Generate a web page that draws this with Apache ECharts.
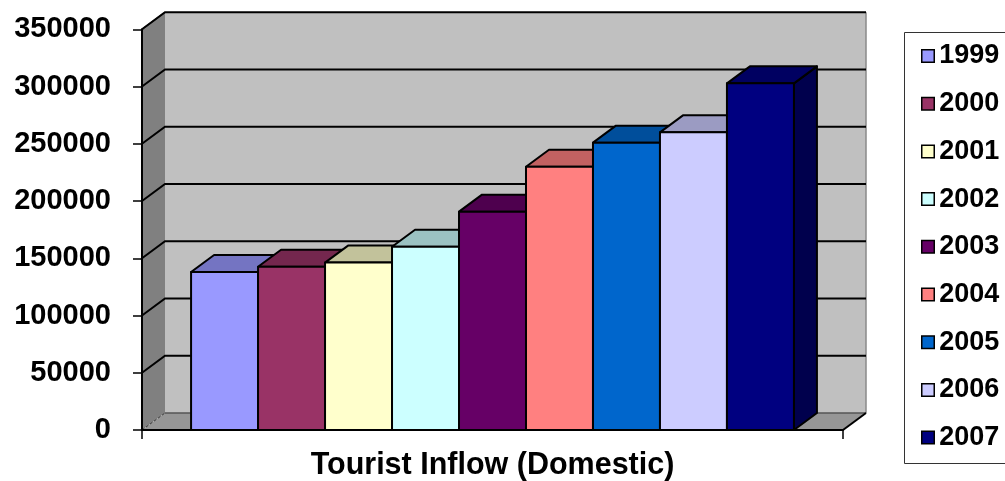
<!DOCTYPE html>
<html>
<head>
<meta charset="utf-8">
<title>Tourist Inflow (Domestic)</title>
<script src="https://cdn.jsdelivr.net/npm/echarts@6/dist/echarts.min.js"></script>
<style>
  html, body { margin: 0; padding: 0; background: #fff; }
  #chart { width: 1005px; height: 481px; }
</style>
</head>
<body>
<div id="chart"></div>
<script>
// Domestic tourist inflow by year
const YEARS = ['1999', '2000', '2001', '2002', '2003', '2004', '2005', '2006', '2007'];
const INFLOW = [138000, 142600, 146200, 160100, 190700, 230000, 251000, 260000, 302800];
const Y_TICKS = [0, 50000, 100000, 150000, 200000, 250000, 300000, 350000];
const CATEGORY = ['Tourist Inflow (Domestic)'];

// Face colours for each year's column
const FRONT = ['#9999FF', '#993366', '#FFFFCC', '#CCFFFF', '#660066', '#FF8080', '#0066CC', '#CCCCFF', '#000080'];

// 3D look: depth offset of walls and columns (pixels)
const DEPTH_X = 23;
const DEPTH_Y = -17;
const BAR_FILL = 0.86;   // share of the category band taken by the columns

function shade(hex, k) {
  const n = parseInt(hex.slice(1), 16);
  const r = Math.round(((n >> 16) & 255) * k);
  const g = Math.round(((n >> 8) & 255) * k);
  const b = Math.round((n & 255) * k);
  return 'rgb(' + r + ',' + g + ',' + b + ')';
}

// Back wall, side wall, floor and gridlines
function renderWalls(params, api) {
  const cs = params.coordSys;
  const xl = cs.x, xr = cs.x + cs.width;
  const y0 = api.coord([0, Y_TICKS[0]])[1];
  const yTop = api.coord([0, Y_TICKS[Y_TICKS.length - 1]])[1];
  const dx = DEPTH_X, dy = DEPTH_Y;
  const children = [];
  // back wall
  children.push({ type: 'rect', shape: { x: xl + dx, y: yTop + dy, width: xr - xl, height: y0 - yTop },
    style: { fill: '#C0C0C0', stroke: null } });
  // side wall
  children.push({ type: 'polygon', shape: { points: [[xl, yTop], [xl + dx, yTop + dy], [xl + dx, y0 + dy], [xl, y0]] },
    style: { fill: '#808080', stroke: null } });
  // floor
  children.push({ type: 'polygon', shape: { points: [[xl, y0], [xl + dx, y0 + dy], [xr + dx, y0 + dy], [xr, y0]] },
    style: { fill: '#969696', stroke: null } });
  // wall edges
  children.push({ type: 'line', shape: { x1: xr + dx, y1: yTop + dy, x2: xr + dx, y2: y0 + dy },
    style: { stroke: '#8a8a8a', lineWidth: 1.5 } });
  children.push({ type: 'line', shape: { x1: xl, y1: yTop, x2: xl + dx, y2: yTop + dy },
    style: { stroke: '#5a5a5a', lineWidth: 1.5 } });
  children.push({ type: 'line', shape: { x1: xl + dx, y1: y0 + dy, x2: xr + dx, y2: y0 + dy },
    style: { stroke: '#555', lineWidth: 1.5 } });
  children.push({ type: 'line', shape: { x1: xl, y1: y0, x2: xl + dx, y2: y0 + dy },
    style: { stroke: '#333', lineWidth: 1, lineDash: [3, 2] } });
  children.push({ type: 'line', shape: { x1: xr, y1: y0, x2: xr + dx, y2: y0 + dy },
    style: { stroke: '#000', lineWidth: 2 } });
  // gridlines on side and back walls
  for (let k = 1; k < Y_TICKS.length; k++) {
    const y = api.coord([0, Y_TICKS[k]])[1];
    children.push({ type: 'polyline', shape: { points: [[xl, y], [xl + dx, y + dy], [xr + dx, y + dy]] },
      style: { fill: null, stroke: '#000', lineWidth: 2 } });
  }
  return { type: 'group', children: children };
}

// One 3D column per year, placed side by side in the single category band
function renderColumn(params, api) {
  const i = params.seriesIndex - 1;
  const v = api.value(1);
  const base = api.coord([api.value(0), 0]);
  const top = api.coord([api.value(0), v]);
  const band = api.size([1, 0])[0];
  const barW = band * BAR_FILL / YEARS.length;
  const x0 = base[0] - barW * YEARS.length / 2 + i * barW;
  const x1 = x0 + barW;
  const yt = top[1], yb = base[1];
  const dx = DEPTH_X, dy = DEPTH_Y;
  const c = FRONT[i];
  const line = { stroke: '#000', lineWidth: 2, lineJoin: 'round' };
  return {
    type: 'group',
    children: [
      { type: 'polygon', shape: { points: [[x1, yt], [x1 + dx, yt + dy], [x1 + dx, yb + dy], [x1, yb]] },
        style: Object.assign({ fill: shade(c, 0.6) }, line) },
      { type: 'polygon', shape: { points: [[x0, yt], [x0 + dx, yt + dy], [x1 + dx, yt + dy], [x1, yt]] },
        style: Object.assign({ fill: shade(c, 0.76) }, line) },
      { type: 'rect', shape: { x: x0, y: yt, width: barW, height: yb - yt },
        style: Object.assign({ fill: c }, line) }
    ]
  };
}

const series = [{
  type: 'custom',
  name: 'walls',
  renderItem: renderWalls,
  data: [[0, 0]],
  silent: true,
  z: 1
}];
YEARS.forEach(function (year, i) {
  series.push({
    type: 'custom',
    name: year,
    renderItem: renderColumn,
    itemStyle: { color: FRONT[i] },
    encode: { x: 0, y: 1 },
    data: [[0, INFLOW[i]]],
    z: 2
  });
});

const FONT = 'Liberation Sans, Arial, sans-serif';
const chart = echarts.init(document.getElementById('chart'), null, { renderer: 'canvas' });
chart.setOption({
  animation: false,
  backgroundColor: '#ffffff',
  grid: { left: 142, right: 162, top: 29.3, bottom: 51, containLabel: false, outerBoundsMode: 'none' },
  // legend frame, running past the right edge of the page
  graphic: [{
    type: 'rect',
    left: 904, top: 32,
    shape: { x: 0, y: 0, width: 140, height: 431 },
    style: { fill: '#fff', stroke: '#333', lineWidth: 1 },
    z: 0
  }],
  xAxis: {
    type: 'category',
    data: CATEGORY,
    z: 10,
    boundaryGap: true,
    axisLine: { show: true, lineStyle: { color: '#000', width: 2 } },
    axisTick: { show: true, length: 9, lineStyle: { color: '#000', width: 1.5 } },
    axisLabel: { show: false },
    name: CATEGORY[0],
    nameLocation: 'middle',
    nameGap: 21,
    nameTextStyle: { fontFamily: FONT, fontWeight: 'bold', fontSize: 30.5, color: '#000', lineHeight: 30 }
  },
  yAxis: {
    type: 'value',
    min: Y_TICKS[0],
    max: Y_TICKS[Y_TICKS.length - 1],
    interval: Y_TICKS[1] - Y_TICKS[0],
    z: 10,
    axisLine: { show: true, lineStyle: { color: '#000', width: 2 } },
    axisTick: { show: true, length: 9, lineStyle: { color: '#000', width: 1.5 } },
    splitLine: { show: false },
    axisLabel: {
      margin: 31, fontFamily: FONT, fontWeight: 'bold', fontSize: 29, color: '#000',
      formatter: function (v) { return String(v); }
    }
  },
  legend: {
    orient: 'vertical',
    left: 904,
    top: 32,
    data: YEARS,
    icon: 'rect',
    itemWidth: 12.5,
    itemHeight: 12.5,
    itemGap: 20.7,
    padding: [10.5, 10, 12.5, 17],
    itemStyle: { borderColor: '#000', borderWidth: 1.5 },
    textStyle: { fontFamily: FONT, fontWeight: 'bold', fontSize: 27, color: '#000', lineHeight: 27 },
    selectedMode: false,
    z: 5
  },
  series: series
});
</script>
</body>
</html>
